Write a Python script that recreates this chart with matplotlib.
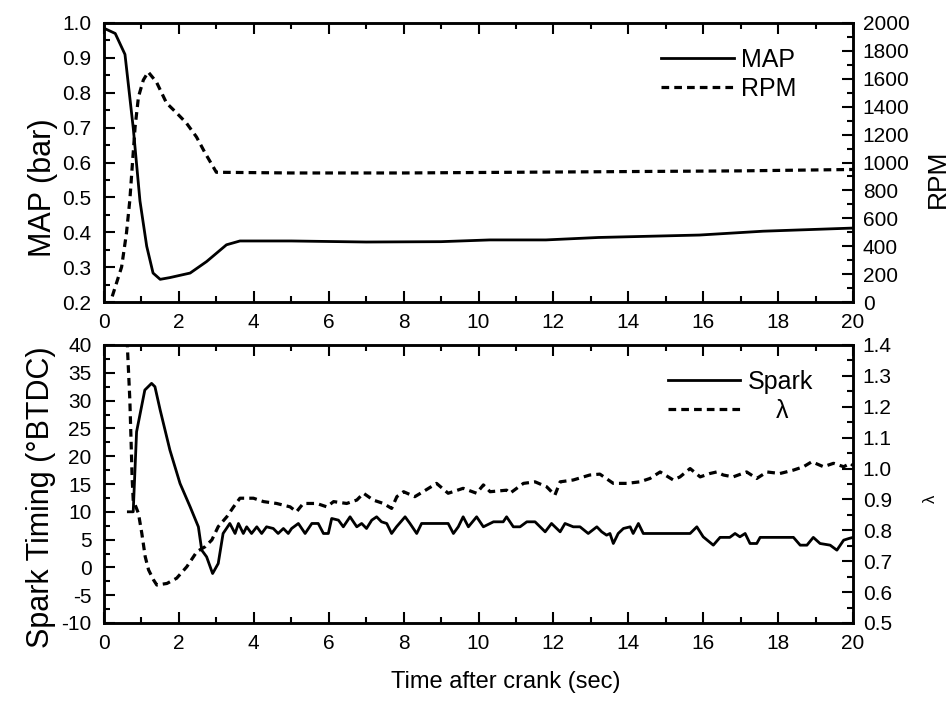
import matplotlib
matplotlib.use("Agg")
import matplotlib.pyplot as plt
from matplotlib.ticker import MultipleLocator, FormatStrFormatter
from matplotlib.lines import Line2D

plt.rcParams['font.family'] = ['Liberation Sans', 'DejaVu Sans']
plt.rcParams['axes.unicode_minus'] = False

# ---------------- data ----------------
map_t = [0.0, 0.3, 0.56, 0.78, 0.96, 1.14, 1.31, 1.5, 1.76, 2.3, 2.74, 3.27, 3.63,
         5.0, 7.0, 9.0, 10.3, 11.8, 13.2, 15.9, 17.6, 20.0]
map_v = [0.985, 0.97, 0.91, 0.70, 0.49, 0.36, 0.283, 0.265, 0.27, 0.283, 0.316, 0.364, 0.375,
         0.375, 0.372, 0.373, 0.378, 0.378, 0.385, 0.392, 0.403, 0.412]

rpm_t = [0.22, 0.47, 0.6, 0.69, 0.76, 0.83, 0.92, 1.05, 1.18, 1.4, 1.67, 1.94, 2.2, 2.47,
         2.7, 3.0, 5.0, 8.0, 11.0, 14.0, 17.0, 20.0]
rpm_v = [40, 251, 494, 731, 996, 1254, 1470, 1591, 1649, 1577, 1426, 1355, 1283, 1183,
         1068, 930, 925, 925, 930, 935, 940, 950]

spark_t = [0.65, 0.78, 0.87, 1.09, 1.27, 1.36, 1.5, 1.76, 2.03, 2.3, 2.52, 2.61, 2.74, 2.9,
           3.05, 3.18, 3.36, 3.50, 3.59, 3.72, 3.81, 3.94, 4.08, 4.21, 4.34, 4.52, 4.65,
           4.79, 4.92, 5.01, 5.19, 5.37, 5.55, 5.72, 5.86, 5.99, 6.08, 6.26, 6.39, 6.57,
           6.75, 6.88, 7.01, 7.15, 7.28, 7.41, 7.55, 7.68, 7.81, 8.04, 8.17, 8.35, 8.48,
           8.88, 9.19, 9.33, 9.46, 9.59, 9.73, 9.95, 10.13, 10.40, 10.66, 10.75, 10.93,
           11.11, 11.29, 11.51, 11.78, 11.95, 12.18, 12.31, 12.53, 12.71, 12.93, 13.16,
           13.29, 13.42, 13.51, 13.60, 13.73, 13.87, 14.05, 14.13, 14.27, 14.40, 15.65,
           15.83, 16.00, 16.27, 16.45, 16.71, 16.85, 16.98, 17.12, 17.25, 17.43, 17.52,
           18.41, 18.59, 18.77, 18.94, 19.12, 19.39, 19.57, 19.75, 19.89, 20.0]
spark_v = [10.0, 10.0, 24.4, 31.9, 33.1, 32.5, 28.3, 21.1, 15.1, 10.9, 7.3, 3.1, 1.9, -1.1,
           0.7, 6.1, 7.9, 6.1, 7.9, 6.1, 7.3, 6.1, 7.3, 6.1, 7.3, 7.0, 6.1,
           7.0, 6.1, 7.0, 7.9, 6.1, 7.9, 7.9, 6.1, 6.1, 8.8, 8.5, 7.3, 9.1,
           7.3, 7.9, 7.0, 8.5, 9.1, 8.2, 7.9, 6.1, 7.3, 9.1, 7.9, 6.1, 7.9,
           7.9, 7.9, 6.1, 7.3, 9.1, 7.3, 9.1, 7.3, 8.2, 8.2, 9.1, 7.3,
           7.3, 8.2, 8.2, 6.4, 7.9, 6.4, 7.9, 7.3, 7.3, 6.1, 7.3,
           6.4, 5.8, 6.1, 4.3, 6.1, 7.0, 7.3, 6.1, 7.9, 6.1, 6.1,
           7.3, 5.5, 4.0, 5.4, 5.4, 6.1, 5.5, 6.1, 4.3, 4.3, 5.4,
           5.4, 4.0, 4.0, 5.4, 4.3, 4.0, 3.1, 4.9, 5.2, 5.4]

lam_t = [0.6, 0.63, 0.69, 0.73, 0.75, 0.78, 0.92, 1.01, 1.1, 1.19, 1.32, 1.41, 1.68, 1.94,
         2.21, 2.48, 2.7, 2.88, 3.05, 3.28, 3.46, 3.63, 3.99, 4.26, 4.61, 4.97, 5.14, 5.32,
         5.68, 5.95, 6.13, 6.48, 6.75, 6.93, 7.19, 7.46, 7.68, 7.82, 8.0, 8.3, 8.52, 8.88,
         9.19, 9.59, 9.95, 10.13, 10.31, 10.75, 10.84, 11.2, 11.51, 11.82, 12.04, 12.18,
         12.53, 12.97, 13.24, 13.6, 13.96, 14.31, 14.58, 14.85, 15.2, 15.38, 15.65, 15.92,
         16.18, 16.36, 16.54, 16.8, 17.16, 17.43, 17.7, 18.05, 18.41, 18.68, 18.9, 19.21,
         19.48, 19.75, 19.93, 20.0]
lam_v = [1.5, 1.38, 1.222, 1.06, 0.973, 0.898, 0.855, 0.79, 0.715, 0.672, 0.64, 0.623, 0.628,
         0.645, 0.682, 0.731, 0.747, 0.769, 0.812, 0.844, 0.876, 0.904, 0.904, 0.893, 0.887,
         0.876, 0.86, 0.887, 0.887, 0.876, 0.893, 0.887, 0.898, 0.92, 0.898, 0.887, 0.871,
         0.909, 0.925, 0.909, 0.925, 0.952, 0.92, 0.936, 0.92, 0.947, 0.925, 0.93, 0.92,
         0.952, 0.957, 0.941, 0.914, 0.957, 0.963, 0.979, 0.982, 0.952, 0.952, 0.957, 0.968,
         0.989, 0.963, 0.973, 1.0, 0.973, 0.984, 0.989, 0.979, 0.973, 0.989, 0.968, 0.989,
         0.984, 0.995, 1.006, 1.022, 1.006, 1.017, 1.006, 1.017, 1.01]

x_ticks = [0, 2, 4, 6, 8, 10, 12, 14, 16, 18, 20]
map_label = "MAP (bar)"
rpm_label = "RPM"
spark_label = "Spark Timing (°BTDC)"
lam_label = "λ"
x_label = "Time after crank (sec)"

# ---------------- figure ----------------
W, H = 951, 704
fig = plt.figure(figsize=(W / 100, H / 100), dpi=100)

def ax_rect(l, t, r, b):
    return [l / W, 1 - b / H, (r - l) / W, (b - t) / H]

ax1 = fig.add_axes(ax_rect(104, 23, 853, 302))
ax1r = ax1.twinx()
ax2 = fig.add_axes(ax_rect(104, 345, 853, 623))
ax2r = ax2.twinx()

LW = 2.0
DLW = 2.3
DASH = (2.4, 1.6)
TICK_FS = 15

ax1.plot(map_t, map_v, color='black', lw=LW)
ax1r.plot(rpm_t, rpm_v, color='black', lw=DLW, dashes=DASH)
ax2.plot(spark_t, spark_v, color='black', lw=LW)
ax2r.plot(lam_t, lam_v, color='black', lw=DLW, dashes=DASH)

ax1.set_xlim(0, 20)
ax1.set_ylim(0.2, 1.0)
ax1r.set_ylim(0, 2000)
ax2.set_xlim(0, 20)
ax2.set_ylim(-10, 40)
ax2r.set_ylim(0.5, 1.4)

for ax in (ax1, ax2):
    ax.set_xticks(x_ticks)
    ax.xaxis.set_minor_locator(MultipleLocator(1))
ax1.yaxis.set_major_locator(MultipleLocator(0.1))
ax1.yaxis.set_minor_locator(MultipleLocator(0.05))
ax1r.yaxis.set_major_locator(MultipleLocator(200))
ax1r.yaxis.set_minor_locator(MultipleLocator(100))
ax2.yaxis.set_major_locator(MultipleLocator(5))
ax2.yaxis.set_minor_locator(MultipleLocator(2.5))
ax2r.yaxis.set_major_locator(MultipleLocator(0.1))
ax2r.yaxis.set_minor_locator(MultipleLocator(0.05))

ax1.yaxis.set_major_formatter(FormatStrFormatter('%.1f'))
ax2r.yaxis.set_major_formatter(FormatStrFormatter('%.1f'))

for ax in (ax1, ax2):
    ax.tick_params(which='both', direction='in', top=True, right=False, labelsize=TICK_FS, width=1.5)
    ax.tick_params(which='major', length=8)
    ax.tick_params(which='minor', length=4)
    ax.tick_params(axis='x', pad=8)
    ax.tick_params(axis='y', pad=9)
for ax in (ax1r, ax2r):
    ax.tick_params(which='both', direction='in', labelsize=TICK_FS, width=1.5, pad=7)
    ax.tick_params(which='major', length=8)
    ax.tick_params(which='minor', length=4)
for ax in (ax1, ax1r, ax2, ax2r):
    for s in ax.spines.values():
        s.set_linewidth(1.8)

# legends
h_solid = Line2D([], [], color='black', lw=LW)
h_dash = Line2D([], [], color='black', lw=DLW, dashes=DASH)
leg_kw = dict(frameon=False, fontsize=18, handlelength=2.9, handletextpad=0.3,
              labelspacing=0.2, borderpad=0, borderaxespad=0, loc='upper right')
ax1r.legend([h_solid, h_dash], ["MAP", "RPM"], bbox_to_anchor=(0.925, 0.91), **leg_kw)
ax2r.legend([h_solid, h_dash], ["Spark", "    " + lam_label], bbox_to_anchor=(0.947, 0.91), **leg_kw)

# axis labels
fig.text(42.5 / W, 1 - 188 / H, map_label, rotation=90, ha='center', va='center', fontsize=22)
fig.text(41 / W, 1 - 497 / H, spark_label, rotation=90, ha='center', va='center', fontsize=22)
fig.text(938 / W, 1 - 179 / H, rpm_label, rotation=90, ha='center', va='center', fontsize=19)
fig.text(930 / W, 1 - 499 / H, lam_label, rotation=90, ha='center', va='center', fontsize=12)
fig.text(506 / W, 1 - 682 / H, x_label, ha='center', va='center', fontsize=17)

fig.savefig("out.png", dpi=100)
